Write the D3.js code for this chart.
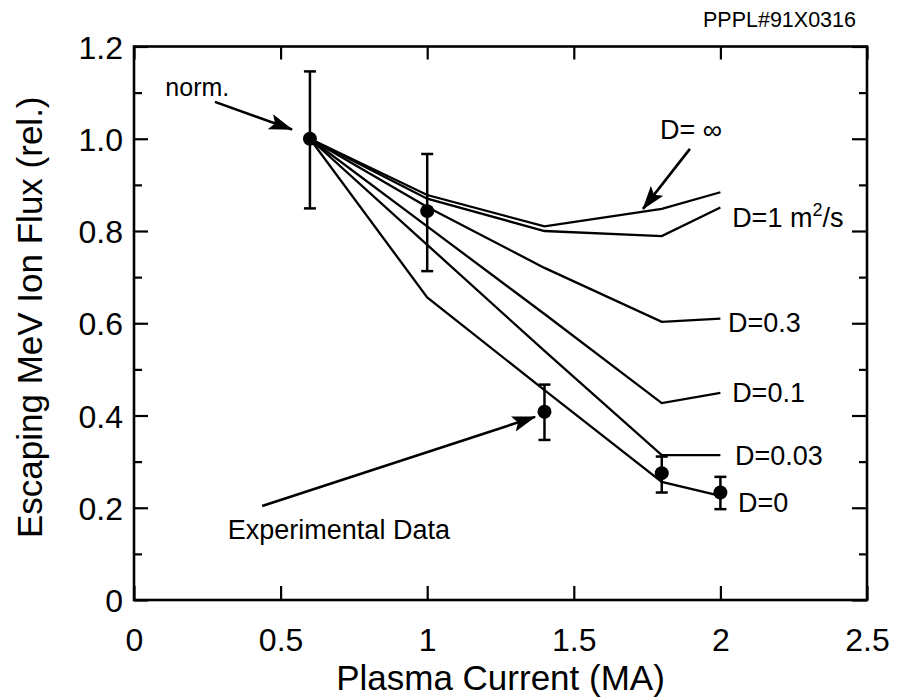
<!DOCTYPE html>
<html>
<head>
<meta charset="utf-8">
<script src="https://cdn.jsdelivr.net/npm/d3@7"></script>
<style>
  body { margin: 0; background: #fff; }
  svg { font-family: "Liberation Sans", Arial, Helvetica, sans-serif; }
</style>
</head>
<body>
<svg id="chart"></svg>
<script>
// plasma current values (MA) where the model curves are computed
const current = [0.6, 1.0, 1.4, 1.8, 2.0];

// model curves, one per diffusion coefficient
const dInf = [1.0, 0.878, 0.81, 0.848, 0.884];
const d1 = [1.0, 0.87, 0.80, 0.789, 0.851];
const d03 = [1.0, 0.852, 0.72, 0.603, 0.61];
const d01 = [1.0, 0.81, 0.62, 0.427, 0.449];
const d003 = [1.0, 0.77, 0.54, 0.314, 0.314];
const d0 = [1.0, 0.656, 0.455, 0.256, 0.226];

// experimental points with error bars
const expX = [0.6, 1.0, 1.4, 1.8, 2.0];
const expY = [1.0, 0.843, 0.408, 0.275, 0.233];
const expLo = [0.849, 0.713, 0.347, 0.233, 0.197];
const expHi = [1.146, 0.967, 0.467, 0.311, 0.267];

const xTicks = [0, 0.5, 1, 1.5, 2, 2.5];
const xTickLabels = ['0', '0.5', '1', '1.5', '2', '2.5'];
const yTicks = [0, 0.2, 0.4, 0.6, 0.8, 1.0, 1.2];
const yTickLabels = ['0', '0.2', '0.4', '0.6', '0.8', '1.0', '1.2'];
const yMinor = [0.1, 0.3, 0.5, 0.7, 0.9, 1.1];

const curves = [dInf, d1, d03, d01, d003, d0];

const width = 901;
const height = 698;
const margin = { top: 46.5, right: 34, bottom: 98, left: 134 };

const svg = d3.select('#chart')
  .attr('width', width)
  .attr('height', height);

const x = d3.scaleLinear().domain([0, 2.5]).range([margin.left, width - margin.right]);
const y = d3.scaleLinear().domain([0, 1.2]).range([height - margin.bottom, margin.top]);

// axes: ticks point inward on all four sides
const axisStyle = g => {
  g.select('.domain').remove();
  g.selectAll('line').attr('stroke', '#000').attr('stroke-width', 2.2);
  g.selectAll('text').attr('fill', '#000').style('font-size', '32px');
};

svg.append('g')
  .attr('transform', `translate(0,${y(0)})`)
  .call(d3.axisBottom(x).tickValues(xTicks).tickSize(-14).tickPadding(28)
    .tickFormat((d, i) => xTickLabels[i]))
  .call(axisStyle);

svg.append('g')
  .attr('transform', `translate(0,${y(1.2)})`)
  .call(d3.axisTop(x).tickValues(xTicks).tickSize(-13).tickFormat(''))
  .call(axisStyle);

svg.append('g')
  .attr('transform', `translate(${x(0)},0)`)
  .call(d3.axisLeft(y).tickValues(yTicks).tickSize(-14).tickPadding(11)
    .tickFormat((d, i) => yTickLabels[i]))
  .call(axisStyle)
  .selectAll('text').attr('dy', '0.36em');

svg.append('g')
  .attr('transform', `translate(${x(0)},0)`)
  .call(d3.axisLeft(y).tickValues(yMinor).tickSize(-8).tickFormat(''))
  .call(axisStyle);

svg.append('g')
  .attr('transform', `translate(${x(2.5)},0)`)
  .call(d3.axisRight(y).tickValues(yTicks).tickSize(-15).tickFormat(''))
  .call(axisStyle);

svg.append('g')
  .attr('transform', `translate(${x(2.5)},0)`)
  .call(d3.axisRight(y).tickValues(yMinor).tickSize(-8).tickFormat(''))
  .call(axisStyle);

// frame
svg.append('rect')
  .attr('x', x(0)).attr('y', y(1.2))
  .attr('width', x(2.5) - x(0)).attr('height', y(0) - y(1.2))
  .attr('fill', 'none').attr('stroke', '#000').attr('stroke-width', 2.6);

// model curves
const line = d3.line()
  .x((d, i) => x(current[i]))
  .y(d => y(d));

svg.append('g').selectAll('path')
  .data(curves)
  .join('path')
  .attr('d', line)
  .attr('fill', 'none')
  .attr('stroke', '#000')
  .attr('stroke-width', 2.3)
  .attr('stroke-linejoin', 'miter');

// experimental data with error bars
const exp = expX.map((v, i) => ({ x: v, y: expY[i], lo: expLo[i], hi: expHi[i] }));
const eb = svg.append('g').attr('stroke', '#000').attr('stroke-width', 2.5);
eb.selectAll('.bar').data(exp).join('line')
  .attr('x1', d => x(d.x)).attr('x2', d => x(d.x))
  .attr('y1', d => y(d.lo)).attr('y2', d => y(d.hi));
eb.selectAll('.capHi').data(exp).join('line').attr('class', 'capHi')
  .attr('x1', d => x(d.x) - 6).attr('x2', d => x(d.x) + 6)
  .attr('y1', d => y(d.hi)).attr('y2', d => y(d.hi));
eb.selectAll('.capLo').data(exp).join('line').attr('class', 'capLo')
  .attr('x1', d => x(d.x) - 6).attr('x2', d => x(d.x) + 6)
  .attr('y1', d => y(d.lo)).attr('y2', d => y(d.lo));

svg.append('g').selectAll('circle')
  .data(exp)
  .join('circle')
  .attr('cx', d => x(d.x))
  .attr('cy', d => y(d.y))
  .attr('r', 7)
  .attr('fill', '#000');

// arrow head marker
svg.append('defs').append('marker')
  .attr('id', 'head')
  .attr('viewBox', '0 0 24 16')
  .attr('refX', 23).attr('refY', 8)
  .attr('markerWidth', 24).attr('markerHeight', 16)
  .attr('markerUnits', 'userSpaceOnUse')
  .attr('orient', 'auto')
  .append('path')
  .attr('d', 'M0,0 L24,8 L0,16 L5,8 Z')
  .attr('fill', '#000');

const arrows = [
  { from: [0.276, 1.08], to: [0.539, 1.02] },
  { from: [1.896, 0.978], to: [1.736, 0.848] },
  { from: [0.437, 0.204], to: [1.368, 0.397] }
];
svg.append('g').selectAll('line')
  .data(arrows)
  .join('line')
  .attr('x1', d => x(d.from[0])).attr('y1', d => y(d.from[1]))
  .attr('x2', d => x(d.to[0])).attr('y2', d => y(d.to[1]))
  .attr('stroke', '#000')
  .attr('stroke-width', 2.6)
  .attr('marker-end', 'url(#head)');

// annotations
const notes = [
  { text: 'norm.', x: 0.107, y: 1.093, size: 25 },
  { text: 'Experimental Data', x: 0.32, y: 0.133, size: 27 },
  { text: 'D= ∞', x: 1.794, y: 1.0, size: 27 },
  { text: 'D=0.3', x: 2.026, y: 0.581, size: 27 },
  { text: 'D=0.1', x: 2.04, y: 0.429, size: 27 },
  { text: 'D=0.03', x: 2.05, y: 0.293, size: 27 },
  { text: 'D=0', x: 2.06, y: 0.191, size: 27 }
];
svg.append('g').selectAll('text')
  .data(notes)
  .join('text')
  .attr('x', d => x(d.x))
  .attr('y', d => y(d.y))
  .style('font-size', d => d.size + 'px')
  .text(d => d.text);

const dm = svg.append('text')
  .attr('x', x(2.04))
  .attr('y', y(0.809))
  .style('font-size', '27px');
dm.append('tspan').text('D=1 m');
dm.append('tspan').attr('dy', -11).style('font-size', '18px').text('2');
dm.append('tspan').attr('dy', 11).text('/s');

// axis titles
svg.append('text')
  .attr('x', (x(0) + x(2.5)) / 2)
  .attr('y', 690)
  .attr('text-anchor', 'middle')
  .style('font-size', '35px')
  .text('Plasma Current (MA)');

svg.append('text')
  .attr('transform', `translate(42,${(y(0) + y(1.2)) / 2 - 6}) rotate(-90)`)
  .attr('text-anchor', 'middle')
  .style('font-size', '35px')
  .text('Escaping MeV Ion Flux (rel.)');

svg.append('text')
  .attr('x', 856)
  .attr('y', 27)
  .attr('text-anchor', 'end')
  .style('font-size', '21.5px')
  .text('PPPL#91X0316');
</script>
</body>
</html>
